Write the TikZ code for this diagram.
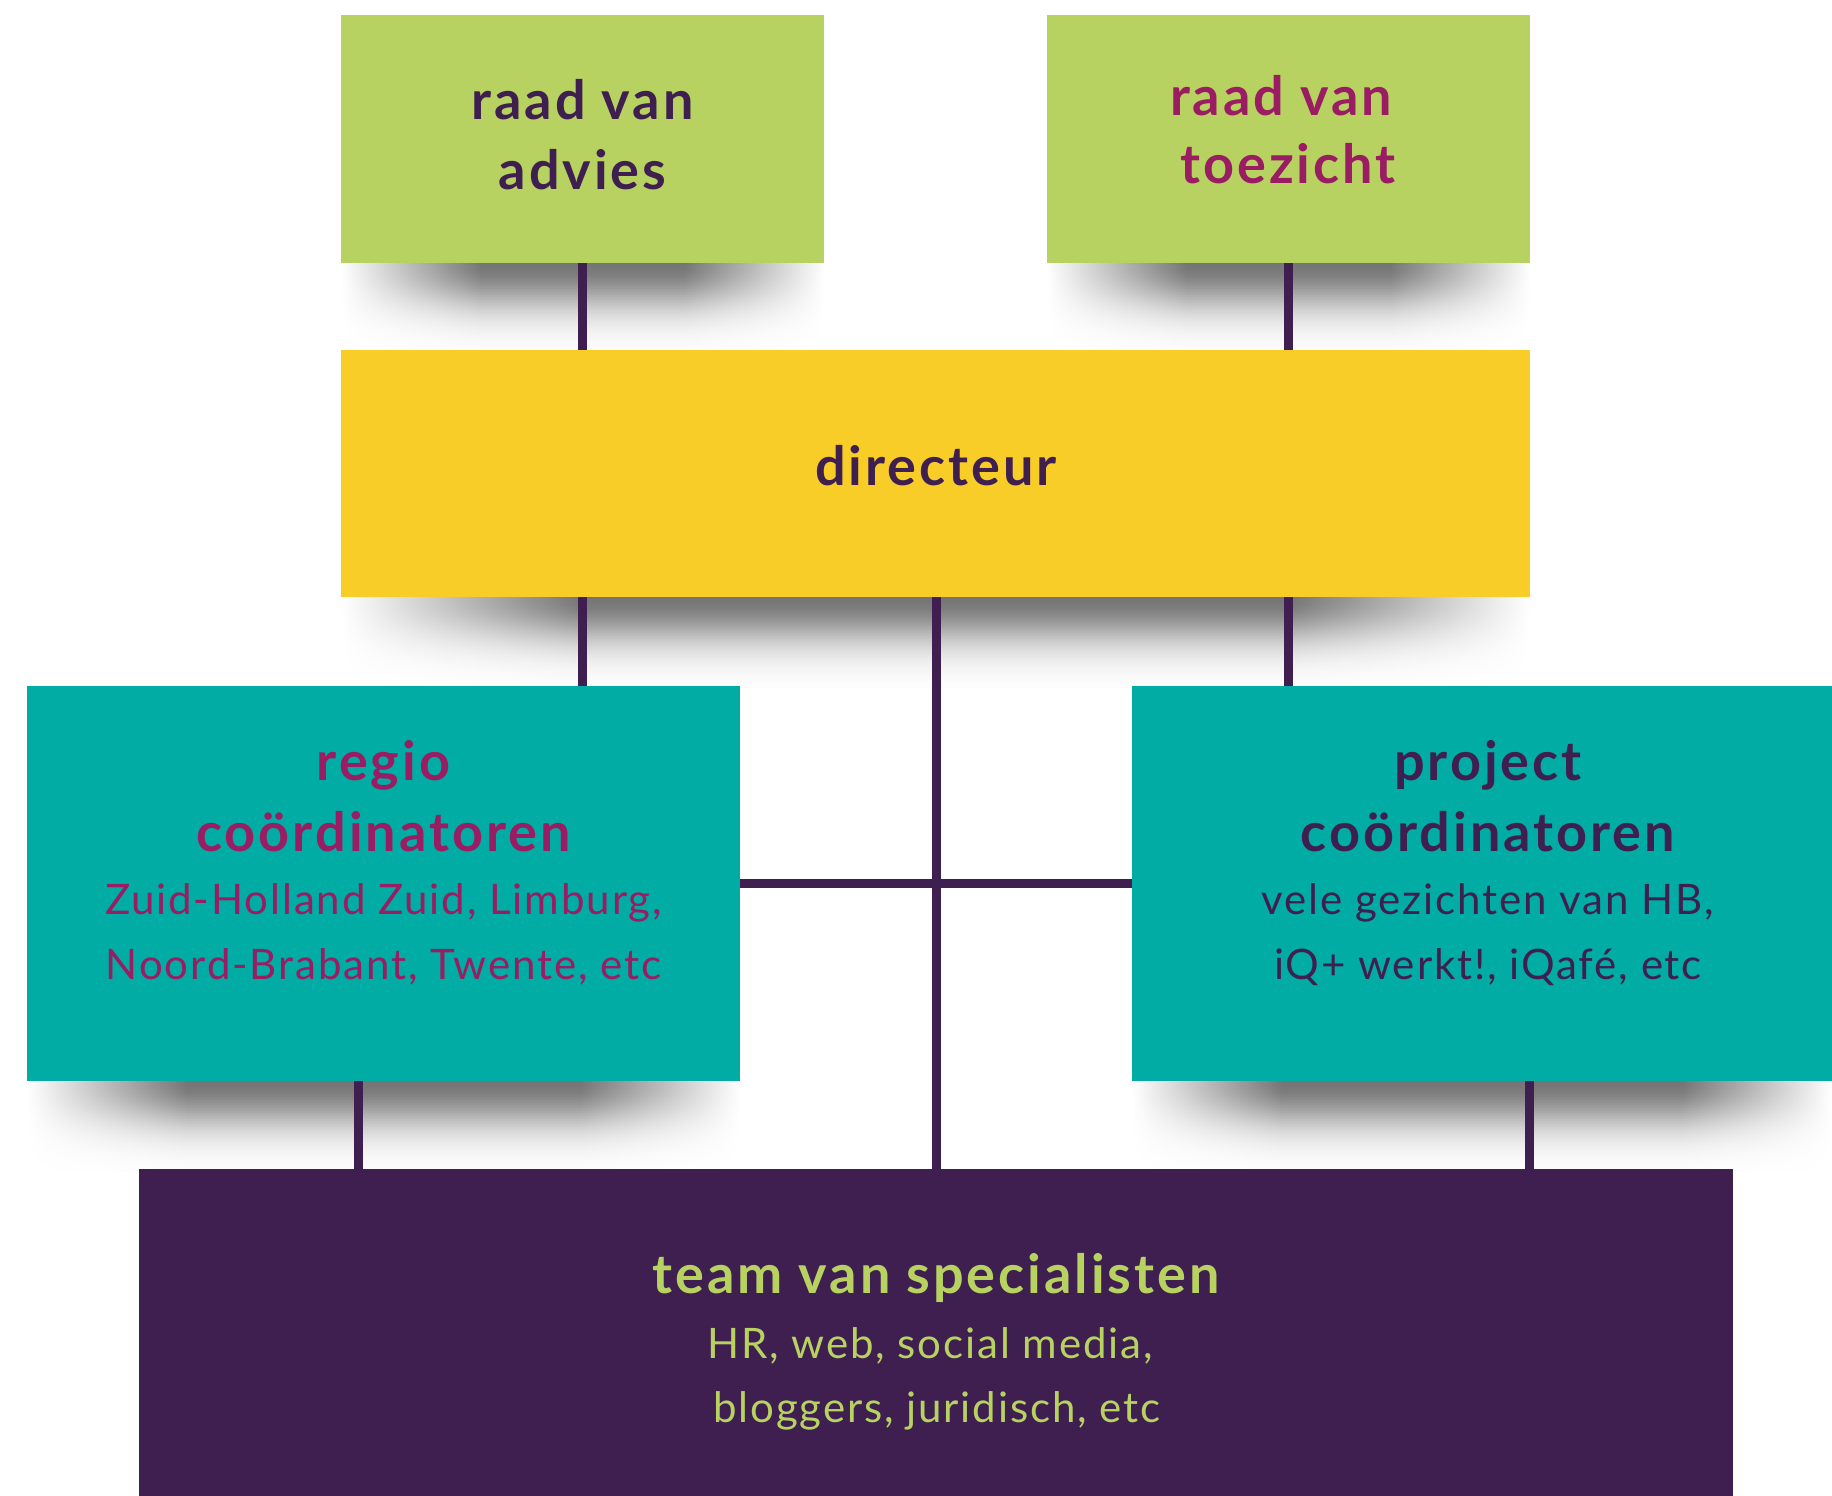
\documentclass[tikz,border=0pt]{standalone}
\usepackage{fontspec}
\setmainfont{Lato}
\newfontfamily\ttlfont{Lato}[LetterSpace=5.5]
\newfontfamily\subfont{Lato}[LetterSpace=4.5]
\definecolor{lime}{HTML}{B8D262}
\definecolor{sun}{HTML}{F9CD27}
\definecolor{teal}{HTML}{00ACA3}
\definecolor{plum}{HTML}{3E1F4F}
\definecolor{berry}{HTML}{9A1C62}
% soft shadow below a box: #1 left x, #2 right x, #3 bottom y, #4 side ramp width
\newcommand{\softshadow}[4]{%
  \foreach \i in {0,...,44}{%
    \pgfmathsetmacro\yy{#3+2*\i}%
    \pgfmathsetmacro\v{54*exp(-((2*\i+1)/45)^2)}%
    \shade[left color=white, right color=black!\v] (#1,\yy) rectangle (#1+#4,\yy+2.6);
    \fill[black!\v] (#1+#4-1,\yy) rectangle (#2-#4+1,\yy+2.6);
    \shade[left color=black!\v, right color=white] (#2-#4,\yy) rectangle (#2,\yy+2.6);
  }}
\tikzset{
  box/.style={rectangle, inner sep=0pt, outer sep=0pt, draw=none},
  ttl/.style={anchor=base, inner sep=0pt, font=\fontsize{54}{60}\ttlfont\bfseries},
  sub/.style={anchor=base, inner sep=0pt, font=\fontsize{42}{48}\subfont},
  link/.style={draw=plum, line width=9pt},
}
\begin{document}
\begin{tikzpicture}[x=1pt, y=-1pt]
\useasboundingbox[fill=white] (0,0) rectangle (1832,1496);

% shadows
\softshadow{341}{824}{263}{140}
\softshadow{1047}{1530}{263}{140}
\softshadow{341}{1530}{597}{240}
\softshadow{27}{740}{1081}{160}
\softshadow{1132}{1832}{1081}{150}

% boxes
\node[box, fill=lime, minimum width=483pt, minimum height=248pt, anchor=north west] (adv) at (341,15) {};
\node[box, fill=lime, minimum width=483pt, minimum height=248pt, anchor=north west] (toe) at (1047,15) {};
\node[box, fill=sun, minimum width=1189pt, minimum height=247pt, anchor=north west] (dir) at (341,350) {};
\node[box, fill=teal, minimum width=713pt, minimum height=395pt, anchor=north west] (reg) at (27,686) {};
\node[box, fill=teal, minimum width=700pt, minimum height=395pt, anchor=north west] (pro) at (1132,686) {};
\node[box, fill=plum, minimum width=1594pt, minimum height=327pt, anchor=north west] (team) at (139,1169) {};

% connectors
\coordinate (cx) at (936,0);
\coordinate (lx) at (358,0);
\coordinate (rx) at (1529,0);
\draw[link] (adv.south) -- (adv.south |- dir.north);
\draw[link] (toe.south) -- (toe.south |- dir.north);
\draw[link] (adv.south |- dir.south) -- (adv.south |- reg.north);
\draw[link] (toe.south |- dir.south) -- (toe.south |- pro.north);
\draw[link] (cx |- dir.south) -- (cx |- team.north);
\draw[link] (reg.east) -- (pro.west);
\draw[link] (lx |- reg.south) -- (lx |- team.north);
\draw[link] (rx |- pro.south) -- (rx |- team.north);

% texts
\node[ttl, text=plum] (adv1) at (582.5,119) {raad van};
\node[ttl, text=plum] (adv2) at (582.5,189) {advies};
\node[ttl, text=berry] (toe1) at (1281,115) {raad van};
\node[ttl, text=berry] (toe2) at (1288,183) {toezicht};
\node[ttl, text=plum] (dir1) at (936,485) {directeur};
\node[ttl, text=berry] (reg1) at (383.5,780) {regio};
\node[ttl, text=berry] (reg2) at (383.5,851) {coördinatoren};
\node[sub, text=berry] (reg3) at (383.5,914) {Zuid-Holland Zuid, Limburg,};
\node[sub, text=berry] (reg4) at (383.5,979) {Noord-Brabant, Twente, etc};
\node[ttl, text=plum] (pro1) at (1488,780) {project};
\node[ttl, text=plum] (pro2) at (1488,851) {coördinatoren};
\node[sub, text=plum] (pro3) at (1488,914) {vele gezichten van HB,};
\node[sub, text=plum] (pro4) at (1488,979) {iQ+ werkt!, iQafé, etc};
\node[ttl, text=lime] (team1) at (936,1293) {team van specialisten};
\node[sub, text=lime] (team2) at (930,1358) {HR, web, social media,};
\node[sub, text=lime] (team3) at (937,1422) {bloggers, juridisch, etc};
\end{tikzpicture}
\end{document}
